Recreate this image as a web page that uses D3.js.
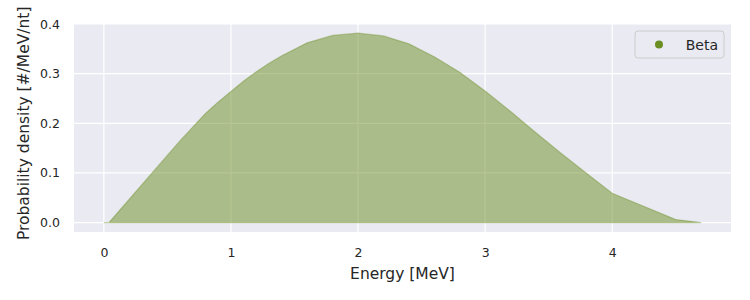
<!DOCTYPE html>
<head>
  <meta charset="utf-8">
  <script src="https://d3js.org/d3.v7.min.js"></script>
  <style>
    body { margin: 0; background: #fff; }
    text { font-family: "DejaVu Sans", sans-serif; fill: #262626; }
    .tick text { font-size: 12.5px; }
    .axis-label { font-size: 15.5px; }
  </style>
</head>
<body>
  <script>
    // energy grid [MeV] and beta spectrum probability density [#/MeV/nt]
    var energy = [0, 0.04, 0.2, 0.4, 0.6, 0.8, 0.9, 1.0, 1.1, 1.2, 1.3, 1.4, 1.6, 1.8, 2.0, 2.2, 2.4, 2.6, 2.8, 3.0, 3.2, 3.4, 3.6, 3.8, 4.0, 4.5, 4.7];
    var density = [0, 0, 0.047, 0.106, 0.165, 0.22, 0.243, 0.264, 0.285, 0.304, 0.321, 0.336, 0.362, 0.377, 0.3815, 0.376, 0.36, 0.334, 0.303, 0.265, 0.224, 0.181, 0.139, 0.099, 0.059, 0.006, 0];
    var xTicks = [0, 1, 2, 3, 4];
    var yTicks = [0.0, 0.1, 0.2, 0.3, 0.4];
    var seriesName = "Beta";

    var width = 750, height = 300;
    var margin = {left: 74, right: 19, top: 19, bottom: 68};

    var svg = d3.select("body").append("svg")
      .attr("width", width)
      .attr("height", height);

    var x = d3.scaleLinear().domain([-0.235, 4.935]).range([margin.left, width - margin.right]);
    var y = d3.scaleLinear().domain([-0.019, 0.4]).range([height - margin.bottom, 24]);

    // plot background (seaborn darkgrid style)
    svg.append("rect")
      .attr("x", margin.left)
      .attr("y", y(0.4))
      .attr("width", width - margin.left - margin.right)
      .attr("height", y(-0.019) - y(0.4))
      .attr("fill", "#eaeaf2");

    // grid lines
    svg.append("g").selectAll("line").data(xTicks).enter().append("line")
      .attr("x1", d => x(d)).attr("x2", d => x(d))
      .attr("y1", y(0.4)).attr("y2", y(-0.019))
      .attr("stroke", "#fff").attr("stroke-width", 1.2);
    svg.append("g").selectAll("line").data(yTicks).enter().append("line")
      .attr("y1", d => y(d)).attr("y2", d => y(d))
      .attr("x1", margin.left).attr("x2", width - margin.right)
      .attr("stroke", "#fff").attr("stroke-width", 1.2);

    var pts = energy.map((e, i) => ({e: e, v: density[i]}));

    var area = d3.area()
      .x(d => x(d.e))
      .y0(y(0))
      .y1(d => y(d.v));

    svg.append("path")
      .datum(pts)
      .attr("d", area)
      .attr("fill", "#6b8e23")
      .attr("fill-opacity", 0.5)
      .attr("stroke", "#6b8e23")
      .attr("stroke-opacity", 0.4)
      .attr("stroke-width", 1.2);

    // axes (no domain lines, no tick marks)
    var xAxis = svg.append("g")
      .attr("transform", "translate(0," + (y(-0.019)) + ")")
      .call(d3.axisBottom(x).tickValues(xTicks).tickSize(0).tickPadding(16).tickFormat(d3.format("d")));
    xAxis.select(".domain").remove();

    var yAxis = svg.append("g")
      .attr("transform", "translate(" + margin.left + ",0)")
      .call(d3.axisLeft(y).tickValues(yTicks).tickSize(0).tickPadding(14).tickFormat(d3.format(".1f")));
    yAxis.select(".domain").remove();

    svg.selectAll(".tick text").style("fill", "#262626").attr("font-family", null);

    svg.append("text")
      .attr("class", "axis-label")
      .attr("x", (margin.left + width - margin.right) / 2)
      .attr("y", 279)
      .attr("text-anchor", "middle")
      .text("Energy [MeV]");

    svg.append("text")
      .attr("class", "axis-label")
      .attr("transform", "translate(29," + y(0.2) + ") rotate(-90)")
      .attr("text-anchor", "middle")
      .text("Probability density [#/MeV/nt]");

    // legend
    var legend = svg.append("g").attr("transform", "translate(635,31)");
    legend.append("rect")
      .attr("width", 89).attr("height", 27).attr("rx", 3)
      .attr("fill", "#eaeaf2").attr("fill-opacity", 0.8)
      .attr("stroke", "#cccccc").attr("stroke-width", 1);
    legend.append("circle")
      .attr("cx", 24).attr("cy", 13.5).attr("r", 4)
      .attr("fill", "#6b8e23");
    legend.append("text")
      .attr("x", 83).attr("y", 18.5)
      .attr("text-anchor", "end")
      .style("font-size", "14px")
      .text(seriesName);
  </script>
</body>
